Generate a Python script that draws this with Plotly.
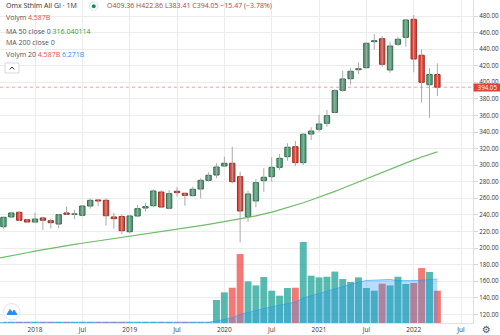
import pandas as pd
import plotly.graph_objects as go

# ---- monthly OHLC (index points), Sep 2017 .. Apr 2022 ----
months = [
    "2017-09", "2017-10", "2017-11", "2017-12",
    "2018-01", "2018-02", "2018-03", "2018-04", "2018-05", "2018-06",
    "2018-07", "2018-08", "2018-09", "2018-10", "2018-11", "2018-12",
    "2019-01", "2019-02", "2019-03", "2019-04", "2019-05", "2019-06",
    "2019-07", "2019-08", "2019-09", "2019-10", "2019-11", "2019-12",
    "2020-01", "2020-02", "2020-03", "2020-04", "2020-05", "2020-06",
    "2020-07", "2020-08", "2020-09", "2020-10", "2020-11", "2020-12",
    "2021-01", "2021-02", "2021-03", "2021-04", "2021-05", "2021-06",
    "2021-07", "2021-08", "2021-09", "2021-10", "2021-11", "2021-12",
    "2022-01", "2022-02", "2022-03", "2022-04",
]
opens = [
    225.8, 237.5, 243.1, 234.2,
    231.4, 236.3, 233.0, 229.0, 242.3, 240.8,
    239.5, 250.7, 258.0, 257.6, 237.5, 238.0,
    219.7, 238.7, 248.3, 251.1, 267.6, 248.0,
    268.5, 266.1, 263.2, 271.2, 281.7, 288.1,
    299.0, 302.3, 286.1, 237.8, 256.8, 281.3,
    286.1, 297.4, 310.2, 322.3, 303.0, 337.6,
    343.3, 350.5, 363.6, 390.3, 404.3, 415.2,
    417.6, 449.0, 452.6, 414.8, 445.9, 454.3,
    476.0, 432.6, 397.1, 409.36,
]
highs = [
    237.8, 243.1, 244.3, 235.0,
    242.6, 237.8, 235.9, 241.1, 249.9, 245.9,
    251.6, 260.0, 258.8, 260.0, 242.6, 240.7,
    239.5, 251.9, 254.7, 270.9, 269.7, 270.0,
    273.3, 266.8, 274.0, 284.2, 291.4, 302.3,
    310.2, 322.3, 292.1, 269.2, 283.3, 296.2,
    309.5, 313.5, 326.4, 329.2, 338.5, 345.7,
    360.9, 366.6, 391.6, 414.0, 417.3, 424.1,
    447.8, 458.3, 455.9, 449.0, 455.0, 475.8,
    481.2, 439.8, 416.9, 422.86,
]
lows = [
    223.3, 236.6, 232.6, 230.6,
    230.6, 221.8, 223.8, 223.8, 239.9, 234.7,
    238.3, 247.5, 250.7, 227.0, 223.3, 216.9,
    217.8, 237.1, 243.9, 249.2, 248.7, 246.8,
    262.0, 251.1, 262.0, 260.0, 280.1, 284.2,
    298.2, 278.1, 206.9, 231.8, 249.2, 268.0,
    280.1, 294.2, 305.4, 299.0, 300.2, 330.4,
    340.4, 346.4, 362.6, 388.7, 397.1, 410.0,
    416.9, 439.8, 418.8, 411.6, 443.8, 443.0,
    412.1, 375.4, 357.3, 383.41,
]
closes = [
    237.1, 242.3, 233.5, 231.4,
    235.0, 233.5, 230.6, 240.2, 240.7, 241.2,
    250.7, 257.6, 256.8, 239.0, 235.4, 220.9,
    238.7, 247.5, 249.9, 268.8, 249.5, 265.6,
    266.8, 263.6, 270.9, 281.7, 287.8, 297.8,
    302.3, 280.1, 244.7, 265.2, 278.9, 285.4,
    297.4, 308.3, 321.6, 303.0, 337.3, 341.2,
    349.7, 359.7, 389.9, 404.0, 413.3, 416.4,
    447.1, 450.2, 421.7, 443.8, 451.9, 475.2,
    428.1, 400.0, 409.52, 394.05,
]
# monthly volume, billions
volumes = [
    0.12, 0.12, 0.12, 0.12,
    0.12, 0.12, 0.12, 0.12, 0.12, 0.12,
    0.12, 0.12, 0.12, 0.12, 0.12, 0.12,
    0.12, 0.12, 0.12, 0.12, 0.12, 0.12,
    0.12, 0.12, 0.12, 0.12, 0.12, 3.27,
    4.35, 5.01, 9.80, 5.91, 5.34, 6.53,
    4.59, 3.88, 4.97, 5.01, 11.5, 6.72,
    6.48, 6.57, 7.30, 6.25, 5.82, 6.48,
    4.97, 4.59, 5.58, 5.34, 6.57, 5.54,
    5.68, 7.80, 7.25, 4.587,
]
# 50-month moving average of the close
ma50_months = ["2017-08"] + months
ma50 = [
    187.0, 188.6, 190.4, 192.3, 194.3,
    196.2, 198.0, 199.7, 201.3, 202.9, 204.4,
    205.8, 207.2, 208.6, 210.0, 211.3, 212.7,
    214.1, 215.4, 216.7, 218.0, 219.3, 220.6,
    222.0, 223.6, 225.3, 227.0, 228.6, 230.1,
    231.7, 233.5, 235.4, 237.0, 238.8, 240.9,
    243.4, 246.1, 248.8, 251.6, 254.7, 257.9,
    261.2, 264.8, 268.4, 272.2, 276.0, 280.0,
    284.0, 288.0, 291.9, 295.6, 299.3, 302.9,
    306.4, 309.8, 313.0, 316.04,
]
tick_months = ["2018-01", "2018-07", "2019-01", "2019-07", "2020-01",
               "2020-07", "2021-01", "2021-07", "2022-01", "2022-07"]
tick_text = ["2018", "Jul", "2019", "Jul", "2020", "Jul", "2021", "Jul", "2022", "Jul"]
price_ticks = list(range(120, 501, 20))
last_price = closes[-1]


def month_pos(label):
    """Bar index: one slot per month, Sep 2017 = 0."""
    y, m = map(int, label.split("-"))
    return (y - 2017) * 12 + (m - 9)


xs = [month_pos(m) for m in months]
up = [c >= o for o, c in zip(opens, closes)]

# ---- colours ----
BODY_UP, BODY_DN = "#5aa37c", "#e2483b"
EDGE_UP, EDGE_DN = "#2f6b4c", "#9e2a22"
WICK = "#a9a9a9"
VOL_UP, VOL_DN = "rgba(38,166,154,0.78)", "rgba(239,83,80,0.78)"
GRID = "#ececec"
FONT = "Open Sans"

# ---- plot area geometry helpers (pixel -> paper) ----
W, H = 500, 335
ML, MR, MT, MB = 0, 27, 0, 12
PW, PH = W - ML - MR, H - MT - MB


def px(x):
    return x / PW


def py(y):
    return 1 - y / PH


fig = go.Figure()

# volume histogram (base axis, drawn underneath)
fig.add_trace(go.Bar(
    x=xs, y=volumes, yaxis="y",
    width=0.88, offset=-0.44,
    marker=dict(color=[VOL_UP if u else VOL_DN for u in up], line=dict(width=0)),
    hoverinfo="skip",
))
# 20-period volume average as a filled area
vol_ma20 = pd.Series(volumes).rolling(20, min_periods=1).mean()
fig.add_trace(go.Scatter(
    x=xs, y=vol_ma20, yaxis="y", mode="lines",
    line=dict(color="rgba(33,150,243,0.55)", width=1),
    fill="tozeroy", fillcolor="rgba(33,150,243,0.32)",
    hoverinfo="skip",
))

# MA 50 on price
fig.add_trace(go.Scatter(
    x=[month_pos(m) for m in ma50_months], y=ma50, yaxis="y2", mode="lines",
    line=dict(color="#6cbd66", width=1.2), hoverinfo="skip",
))

# candle wicks
wx, wy = [], []
for x, h, l in zip(xs, highs, lows):
    wx += [x, x, None]
    wy += [l, h, None]
fig.add_trace(go.Scatter(
    x=wx, y=wy, yaxis="y2", mode="lines",
    line=dict(color=WICK, width=1), hoverinfo="skip",
))

# candle bodies
fig.add_trace(go.Bar(
    x=xs,
    y=[abs(c - o) for o, c in zip(opens, closes)],
    base=[min(o, c) for o, c in zip(opens, closes)],
    yaxis="y2", width=0.68, offset=-0.34,
    marker=dict(color=[BODY_UP if u else BODY_DN for u in up],
                line=dict(color=[EDGE_UP if u else EDGE_DN for u in up], width=1)),
    hoverinfo="skip",
))

# price range so that the axis maps 480 -> 16px and 0.8287 px per point
pts_per_px = 1 / 0.8287
p_top = 480 + 16 * pts_per_px
p_bot = 480 - (PH - 16) * pts_per_px
vol_top = PH * 0.142

x_left = -35 / 7.89 + 4
x_right = (PW - 35) / 7.89 + 4

fig.update_layout(
    width=W, height=H,
    margin=dict(l=ML, r=MR, t=MT, b=MB, pad=0),
    paper_bgcolor="white", plot_bgcolor="white",
    showlegend=False, barmode="overlay", hovermode=False,
    font=dict(family=FONT, size=6.5, color="#333"),
    xaxis=dict(
        range=[x_left, x_right],
        tickvals=[month_pos(m) for m in tick_months], ticktext=tick_text,
        showgrid=True, gridcolor=GRID, gridwidth=1,
        zeroline=False, ticks="", showline=True, linecolor="#e3e3e3",
        tickfont=dict(size=6.5, color="#333"),
    ),
    yaxis=dict(range=[0, vol_top], visible=False, fixedrange=True),
    yaxis2=dict(
        overlaying="y", side="right", range=[p_bot, p_top],
        tickvals=price_ticks, tickformat=".2f",
        showgrid=True, gridcolor=GRID, gridwidth=1, zeroline=False,
        ticks="outside", ticklen=4, tickcolor="#d6d6d6",
        showline=True, linecolor="#dedede",
        tickfont=dict(size=6.2, color="#333"),
    ),
)

# last price marker line and label
fig.add_shape(type="line", xref="paper", x0=0, x1=1, yref="y2",
              y0=last_price, y1=last_price,
              line=dict(color="rgba(239,83,80,0.55)", width=1, dash="dot"))
fig.add_annotation(xref="paper", x=1, xanchor="left", yref="y2", y=last_price,
                   text=f"{last_price:.2f}", showarrow=False,
                   bgcolor="#e0423a", width=27, height=7, borderpad=0,
                   font=dict(size=6.2, color="white", family=FONT))

# legend block, top left
GREY = "#4f525c"
RED = "#e8504a"
legend_rows = [
    (6, '<span style="color:#2a2e39">Omx Sthlm All GI · 1M</span>'),
    (18, f'Volym <span style="color:{RED}">4.587B</span>'),
    (31, 'MA 50 close 0 <span style="color:#2e9b35">316.040114</span>'),
    (43, 'MA 200 close 0'),
    (55, f'Volym 20 <span style="color:{RED}">4.587B</span> '
         '<span style="color:#2196f3">6.271B</span>'),
]
for yy, txt in legend_rows:
    fig.add_annotation(xref="paper", yref="paper", x=px(4), y=py(yy),
                       xanchor="left", yanchor="middle", text=txt, showarrow=False,
                       font=dict(size=7, color=GREY, family=FONT))
ohlc_txt = (f"O{opens[-1]:.2f} H{highs[-1]:.2f} L{lows[-1]:.2f} "
            f"C{closes[-1]:.2f} −15.47 (−3.78%)")
fig.add_annotation(xref="paper", yref="paper", x=px(105), y=py(6),
                   xanchor="left", yanchor="middle", text=ohlc_txt, showarrow=False,
                   font=dict(size=7, color="#b5403a", family=FONT))

# market status dot
fig.add_shape(type="circle", xref="paper", yref="paper",
              x0=px(89.5), x1=px(98), y0=py(10.5), y1=py(2),
              line=dict(color="#d5e9e3", width=1), fillcolor="white")
fig.add_shape(type="circle", xref="paper", yref="paper",
              x0=px(91.8), x1=px(95.7), y0=py(8.3), y1=py(4.3),
              line=dict(width=0), fillcolor="#178a6c")

# collapse button
fig.add_shape(type="rect", xref="paper", yref="paper",
              x0=px(5), x1=px(19), y0=py(73), y1=py(63),
              line=dict(color="#d6d8de", width=1), fillcolor="white")
fig.add_shape(type="path", xref="paper", yref="paper",
              path=f"M {px(9.8)} {py(69.3)} L {px(12)} {py(67)} L {px(14.2)} {py(69.3)}",
              line=dict(color="#333", width=1))

# logo badge, bottom left
fig.add_shape(type="circle", xref="paper", yref="paper",
              x0=px(3.5), x1=px(20), y0=py(320), y1=py(303.5),
              line=dict(color="#e2e4ea", width=1), fillcolor="white")
fig.add_shape(type="path", xref="paper", yref="paper",
              path=(f"M {px(7)} {py(314.5)} L {px(10)} {py(309.5)} L {px(12.3)} {py(312.5)} "
                    f"L {px(14)} {py(310)} L {px(17)} {py(314.5)} Z"),
              line=dict(color="#2e8de6", width=1), fillcolor="#2e8de6")

# settings gear, bottom right
fig.add_annotation(xref="paper", yref="paper", x=px(487), y=py(329.5),
                   xanchor="center", yanchor="middle", text="⚙", showarrow=False,
                   font=dict(size=10, color="#555", family="DejaVu Sans"))

fig.write_html("out.html")
